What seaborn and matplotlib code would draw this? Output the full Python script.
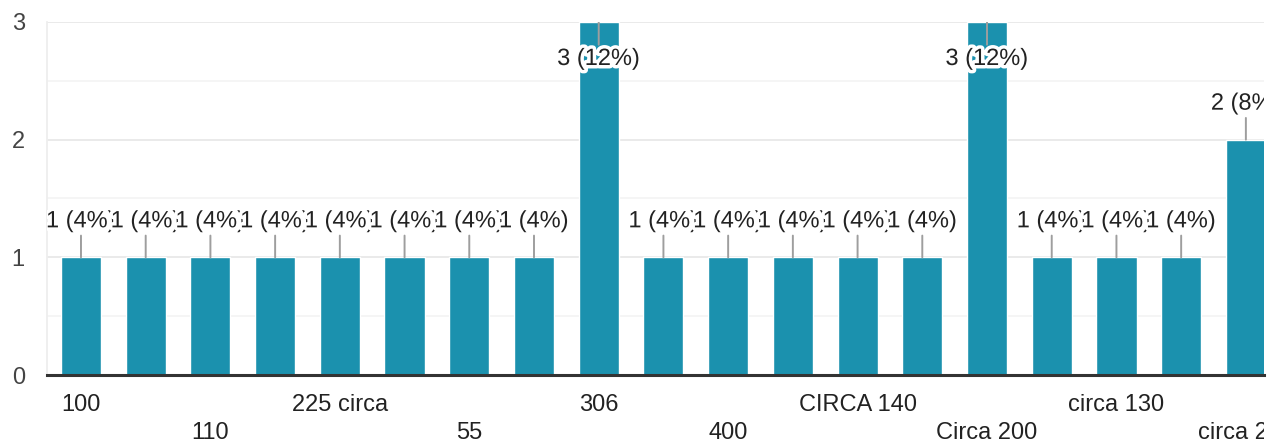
import matplotlib
matplotlib.use("Agg")
import matplotlib.pyplot as plt
import matplotlib.patheffects as pe
from matplotlib.ticker import MultipleLocator
from matplotlib.transforms import Bbox, TransformedBbox
import seaborn as sns
import pandas as pd

# --- данные (ответы формы) ---
answers = ["100", None, "110", None, "225 circa", None, "55", None, "306", None,
           "400", None, "CIRCA 140", None, "Circa 200", None, "circa 130", None, "circa 250"]
counts = [1, 1, 1, 1, 1, 1, 1, 1, 3, 1, 1, 1, 1, 1, 3, 1, 1, 1, 2]
total_responses = 25

BAR = "#1b91ae"
W, H = 1283, 444

sns.set_theme(style="white")
plt.rcParams["font.family"] = ["Liberation Sans", "DejaVu Sans"]

df = pd.DataFrame({"pos": range(len(counts)), "count": counts})

fig = plt.figure(figsize=(W / 100, H / 100), dpi=100)
ax_left, ax_right, ax_top, ax_bottom = 47, 1264, 22, 375
ax = fig.add_axes([ax_left / W, (H - ax_bottom) / H,
                   (ax_right - ax_left) / W, (ax_bottom - ax_top) / H])

sns.barplot(data=df, x="pos", y="count", color=BAR, saturation=1, width=0.62, ax=ax)

ax.set_ylim(0, 3)
ax.set_xlim(-0.525, 18.28)
ax.yaxis.set_major_locator(MultipleLocator(1))
ax.yaxis.set_minor_locator(MultipleLocator(0.5))
ax.grid(which="major", axis="y", color="#e8e8e8", lw=1.3)
ax.grid(which="minor", axis="y", color="#f4f4f4", lw=1.3)
ax.grid(False, axis="x")
ax.set_axisbelow(True)
for s in ["top", "right"]:
    ax.spines[s].set_visible(False)
ax.spines["left"].set_color("#eeeeee")
ax.spines["left"].set_linewidth(1.3)
ax.spines["bottom"].set_color("#333333")
ax.spines["bottom"].set_linewidth(2.2)
ax.spines["bottom"].set_zorder(5)
ax.set_xlabel("")
ax.set_ylabel("")

ax.tick_params(axis="y", which="both", length=0, pad=16, labelsize=17, labelcolor="#444444")
ax.tick_params(axis="x", length=0, labelsize=17, labelcolor="#222222")
ax.set_yticks([0, 1, 2, 3])
ax.set_yticklabels(["0", "1", "2", "3"])

ax.set_xticks(range(len(answers)))
ax.set_xticklabels([a if a else "" for a in answers])

# подписи по оси X в два ряда, обрезаем по правому краю графика
clip = TransformedBbox(Bbox([[0, 0], [ax_right / W, 1]]), fig.transFigure)
shown = 0
for tick, a in zip(ax.xaxis.get_major_ticks(), answers):
    if not a:
        continue
    tick.set_pad(14 if shown % 2 == 0 else 34)
    tick.label1.set_clip_box(clip)
    tick.label1.set_clip_on(True)
    shown += 1

# подписи значений с выносками
ymax = ax.get_ylim()[1]
for i, c in enumerate(counts):
    txt = f"{c} ({c / total_responses:.0%})"
    off = -37 if c >= ymax else 36
    ann = ax.annotate(txt, xy=(i, c), xytext=(0, off), textcoords="offset pixels",
                      ha="center", va="center", fontsize=17, color="#222222",
                      annotation_clip=False,
                      arrowprops=dict(arrowstyle="-", color="#9e9e9e", lw=1.4,
                                      shrinkA=0, shrinkB=0),
                      path_effects=[pe.withStroke(linewidth=5, foreground="white")])
    ann.set_clip_box(ax.bbox)
    ann.set_clip_on(True)
    ann.arrow_patch.set_clip_box(ax.bbox)

fig.savefig("out.png", dpi=100, facecolor="white")
